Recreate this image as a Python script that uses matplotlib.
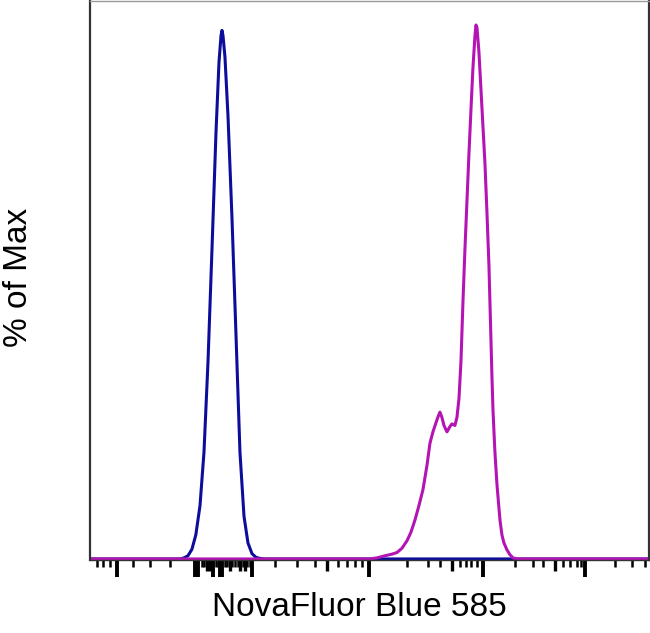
import matplotlib
matplotlib.use("Agg")
import matplotlib.pyplot as plt

plt.rcParams['font.family'] = ['Liberation Sans', 'DejaVu Sans']

# channel position (display scale 0-1000) and % of max
blue_x = [0, 162, 169, 176, 183, 190, 197.5, 204.6, 211.8, 218.9, 226.1, 231.4,
          235.0, 236.8, 238.6, 242.1, 247.5, 254.6, 261.8, 268.9, 276.1, 283.2,
          290.4, 297.5, 304.7, 311.8, 1000]
blue_y = [0, 0, 0.2, 0.6, 1.8, 4.5, 10, 20, 37, 58, 80, 93,
          98, 99, 98, 94, 83, 64, 42, 20, 8, 3,
          1, 0.3, 0.1, 0, 0]

magenta_x = [0, 501.3, 513.8, 528.1, 540.6, 549.5, 558.4, 567.4, 574.5, 581.7,
             588.8, 596.0, 603.1, 608.5, 613.8, 619.2, 622.8, 626.3, 629.9, 633.5,
             638.9, 644.2, 647.8, 653.1, 656.7, 660.3, 663.9, 667.4, 671.0, 674.6,
             678.2, 681.7, 685.3, 688.9, 690.7, 692.5, 696.0, 699.6, 703.2, 706.8,
             710.3, 713.9, 715.7, 717.5, 719.3, 721.1, 722.8, 724.6, 728.2, 731.8,
             733.6, 737.1, 740.7, 746.1, 751.4, 756.8, 765.7, 1000]
magenta_y = [0, 0, 0.2, 0.6, 0.9, 1.2, 2.0, 3.4, 5.0, 7.3,
             10, 13, 17.5, 21.7, 23.8, 25.5, 26.6, 27.5, 26.5, 25,
             23.8, 24.8, 25.3, 25, 26.5, 30, 37, 48, 58, 67,
             76, 84, 92, 98, 100, 99.5, 95, 88, 81, 74,
             65, 55, 48, 41, 34, 28, 24, 20, 14, 9.5,
             7.3, 4.5, 3, 1.7, 0.8, 0.2, 0, 0]

# x axis ticks (logicle-like scale)
long_ticks = [49.1, 188.5, 193.9, 220.7, 233.2, 236.8, 290.4, 499.5, 703.2, 885.5]
mid_ticks = [210.0, 215.3, 251.1, 268.9, 277.9, 424.4, 647.8, 831.9]
short_ticks = [13.4, 24.1, 36.6, 77.7, 108.1, 143.9,
               201.0, 204.6, 226.1, 229.6, 242.1, 245.7, 254.6, 260.0, 265.4,
               274.3, 281.5, 286.8,
               331.5, 370.8, 403.0, 444.1, 460.2, 474.5, 487.0,
               567.4, 604.9, 626.3, 662.1, 672.8, 681.7, 692.5,
               760.4, 792.5, 810.4, 846.2, 858.7, 871.2, 878.3,
               939.1, 969.5, 992.7]

fig = plt.figure(figsize=(6.5, 6.33), dpi=100)
ax = fig.add_axes([0.1377, 0.1153, 0.8608, 0.8831])

ax.plot(blue_x, blue_y, color='#0d0d9c', lw=2.2, solid_joinstyle='round')
ax.plot(magenta_x, magenta_y, color='#b414b4', lw=2.2, solid_joinstyle='round')

ax.set_xlim(0, 1000)
ax.set_ylim(-0.2, 104.5)
ax.set_xticks([])
ax.set_yticks([])

tr = ax.get_xaxis_transform()
ax.vlines(long_ticks, -0.031, 0, transform=tr, color='black', lw=2.8, clip_on=False)
ax.vlines(mid_ticks, -0.02, 0, transform=tr, color='black', lw=2.4, clip_on=False)
ax.vlines(short_ticks, -0.012, 0, transform=tr, color='black', lw=1.8, clip_on=False)

for side in ['left', 'right']:
    ax.spines[side].set_color('#333333')
    ax.spines[side].set_linewidth(1.6)
ax.spines['top'].set_color('#999999')
ax.spines['top'].set_linewidth(1.0)
ax.spines['bottom'].set_color('#333333')
ax.spines['bottom'].set_linewidth(1.0)

fig.text(0.553, 0.04, 'NovaFluor Blue 585', ha='center', va='center', fontsize=24)
fig.text(0.028, 0.562, '% of Max', ha='center', va='center', fontsize=24, rotation=90)

fig.savefig('out.png', dpi=100)
